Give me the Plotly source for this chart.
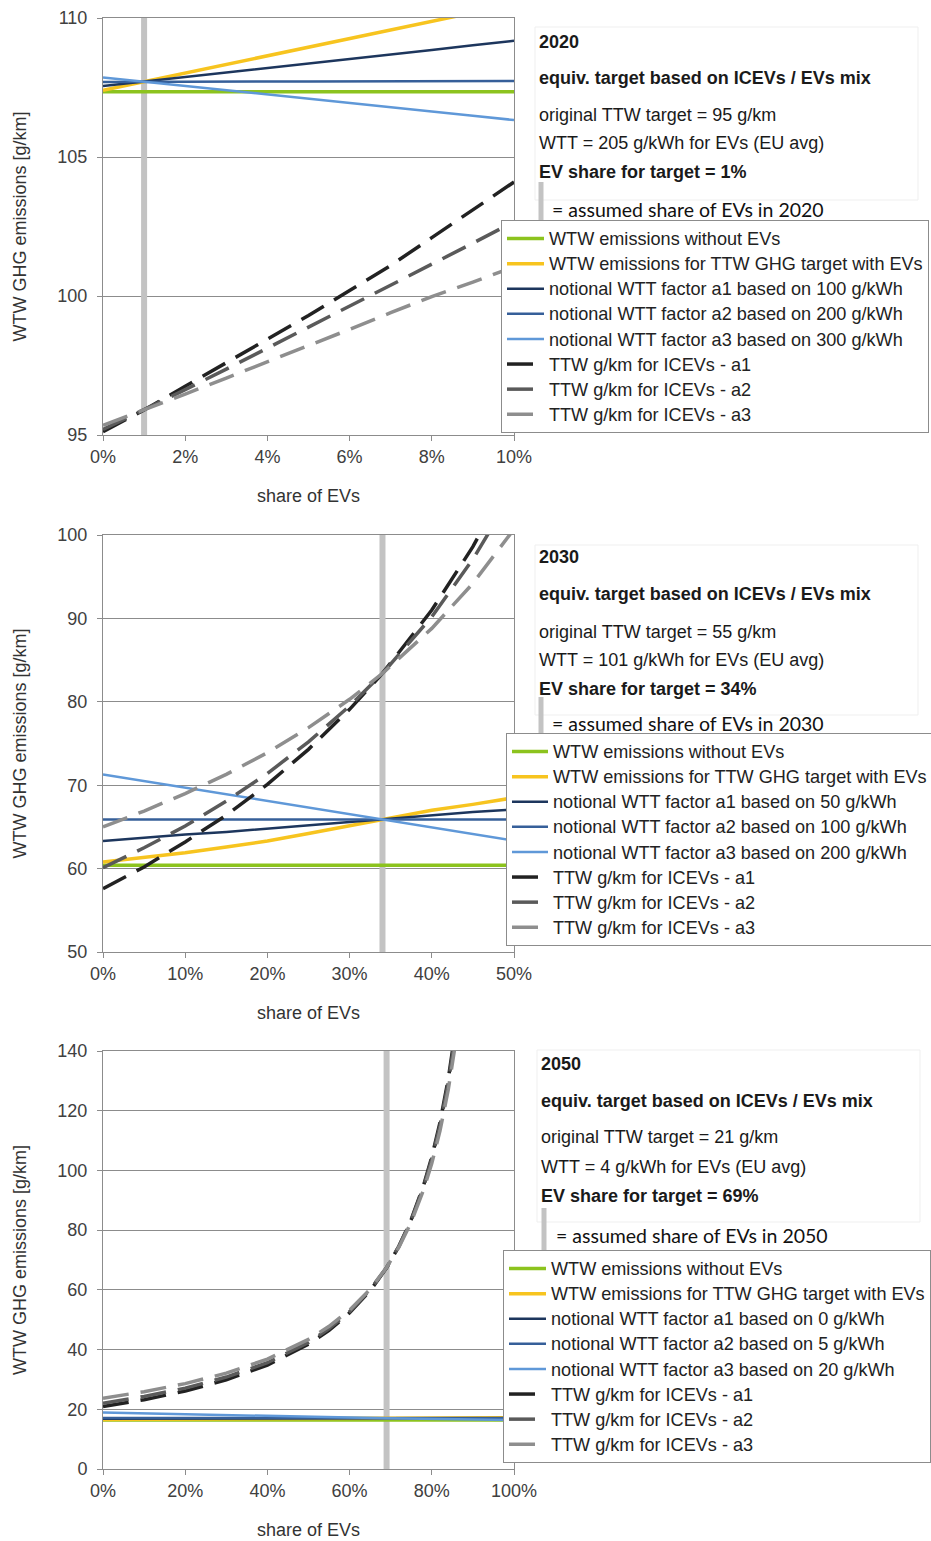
import plotly.graph_objects as go

W, H = 931, 1541

# ---------------- data ----------------
# Panel 2020 (share of EVs in %)
x2020 = [0, 1, 2, 3, 4, 5, 6, 7, 8, 9, 10]
wtw_noev_2020 = [107.35, 107.35, 107.35, 107.35, 107.35, 107.35, 107.35, 107.35, 107.35, 107.35, 107.35]
wtw_target_2020 = [107.40, 107.71, 108.02, 108.33, 108.64, 108.95, 109.26, 109.57, 109.88, 110.19, 110.50]
wtt_a1_2020 = [107.55, 107.71, 107.88, 108.04, 108.20, 108.37, 108.53, 108.69, 108.85, 109.02, 109.18]
wtt_a2_2020 = [107.70, 107.71, 107.71, 107.71, 107.72, 107.72, 107.72, 107.72, 107.73, 107.73, 107.73]
wtt_a3_2020 = [107.86, 107.71, 107.55, 107.40, 107.25, 107.10, 106.94, 106.79, 106.64, 106.48, 106.33]
ttw_a1_2020 = [95.12, 95.90, 96.75, 97.60, 98.45, 99.30, 100.20, 101.10, 102.10, 103.10, 104.10]
ttw_a2_2020 = [95.20, 95.90, 96.63, 97.37, 98.12, 98.87, 99.62, 100.38, 101.14, 101.90, 102.67]
ttw_a3_2020 = [95.35, 95.90, 96.47, 97.05, 97.63, 98.20, 98.80, 99.40, 99.98, 100.50, 101.05]
ev_share_2020 = 1

# Panel 2030
x2030 = [0, 5, 10, 15, 20, 25, 30, 34, 40, 45, 50]
wtw_noev_2030 = [60.4, 60.4, 60.4, 60.4, 60.4, 60.4, 60.4, 60.4, 60.4, 60.4, 60.4]
wtw_target_2030 = [60.8, 61.3, 61.9, 62.6, 63.3, 64.2, 65.1, 65.9, 67.0, 67.7, 68.5]
wtt_a1_2030 = [63.3, 63.7, 64.1, 64.4, 64.8, 65.2, 65.6, 65.9, 66.4, 66.8, 67.1]
wtt_a2_2030 = [65.9, 65.9, 65.9, 65.9, 65.9, 65.9, 65.9, 65.9, 65.9, 65.9, 65.9]
wtt_a3_2030 = [71.3, 70.5, 69.7, 68.9, 68.1, 67.3, 66.5, 65.9, 64.9, 64.1, 63.35]
ttw_a1_2030 = [57.6, 60.2, 63.2, 66.4, 70.1, 74.3, 79.1, 83.4, 91.0, 98.6, 107.7]
ttw_a2_2030 = [60.1, 62.5, 65.1, 68.1, 71.4, 75.2, 79.5, 83.4, 90.2, 97.1, 105.3]
ttw_a3_2030 = [65.0, 66.9, 69.0, 71.3, 73.9, 76.9, 80.3, 83.4, 88.8, 94.2, 100.7]
ev_share_2030 = 34

# Panel 2050
x2050_solid = [0, 69, 100]
wtw_noev_2050 = [16.4, 16.4, 16.4]
wtw_target_2050 = [16.6, 17.0, 17.2]
wtt_a1_2050 = [16.8, 17.0, 17.1]
wtt_a2_2050 = [17.1, 17.0, 17.0]
wtt_a3_2050 = [18.9, 17.0, 16.4]
x2050_dash = [0, 10, 20, 30, 40, 50, 55, 60, 65, 69, 72, 75, 78, 80, 82, 84, 86, 88]
ttw_a1_2050 = [20.9, 23.2, 26.1, 29.9, 34.8, 41.8, 46.4, 52.3, 59.7, 67.4, 74.6, 83.6, 95.0, 104.5, 116.1, 130.6, 149.3, 174.2]
ttw_a2_2050 = [22.0, 24.3, 27.1, 30.8, 35.6, 42.4, 47.0, 52.7, 60.0, 67.5, 74.6, 83.3, 94.5, 103.8, 115.1, 129.3, 147.6, 171.9]
ttw_a3_2050 = [23.7, 25.9, 28.6, 32.1, 36.8, 43.4, 47.8, 53.2, 60.2, 67.5, 74.3, 82.7, 93.5, 102.4, 113.3, 127.0, 144.6, 168.0]
ev_share_2050 = 69

# axis settings / labels
y_ranges = [[95, 110], [50, 100], [0, 140]]
y_dticks = [5, 10, 20]
x_ranges = [[0, 10], [0, 50], [0, 100]]
x_tickvals = [[0, 2, 4, 6, 8, 10], [0, 10, 20, 30, 40, 50], [0, 20, 40, 60, 80, 100]]
x_ticktext = [["0%", "2%", "4%", "6%", "8%", "10%"],
              ["0%", "10%", "20%", "30%", "40%", "50%"],
              ["0%", "20%", "40%", "60%", "80%", "100%"]]
wtt_factors = [[100, 200, 300], [50, 100, 200], [0, 5, 20]]
years = ["2020", "2030", "2050"]
ttw_targets = [95, 55, 21]
wtt_evs = [205, 101, 4]

panels = [
    dict(xs=x2020, xd=x2020, noev=wtw_noev_2020, tgt=wtw_target_2020,
         a=[wtt_a1_2020, wtt_a2_2020, wtt_a3_2020], t=[ttw_a1_2020, ttw_a2_2020, ttw_a3_2020], share=ev_share_2020),
    dict(xs=x2030, xd=x2030, noev=wtw_noev_2030, tgt=wtw_target_2030,
         a=[wtt_a1_2030, wtt_a2_2030, wtt_a3_2030], t=[ttw_a1_2030, ttw_a2_2030, ttw_a3_2030], share=ev_share_2030),
    dict(xs=x2050_solid, xd=x2050_dash, noev=wtw_noev_2050, tgt=wtw_target_2050,
         a=[wtt_a1_2050, wtt_a2_2050, wtt_a3_2050], t=[ttw_a1_2050, ttw_a2_2050, ttw_a3_2050], share=ev_share_2050),
]

# ---------------- styling ----------------
FONT = "Liberation Sans, Arial, sans-serif"
GRID = "#8c8c8c"
C_GREEN = "#8cc31e"
C_YELLOW = "#f7c41f"
C_A = ["#1d365d", "#365f99", "#5f98d8"]
C_T = ["#222222", "#5a5a5a", "#8e8e8e"]
BAR = "#c3c3c3"
DASH = "26px,12px"

# pixel geometry of the three plot areas
plot_x = (103, 514)
plot_y = [(18, 435), (535, 952), (1051, 1469)]
legend_pos = [(501, 220), (506, 733), (503, 1250)]
legend_itemw = [37, 36, 37]
text_x = [537, 537, 539]
assumed_x = [550, 550, 554]
text_y = [(42, 78, 115, 143, 172, 209), (557, 594, 632, 660, 689, 723), (1064, 1101, 1137, 1167, 1196, 1235)]
bar_y = [(182, 222), (697, 738), (1208, 1250)]
bar_x = [541, 541, 544]
box = [(535, 27, 918, 200), (535, 545, 918, 715), (537, 1050, 920, 1222)]

def px(x):
    return x / W

def py(y):
    return 1 - y / H

def leg_label(s):
    return f'<span style="font-size:18.1px">{s}</span>'

fig = go.Figure()
annotations = []
shapes = []
layout = dict(
    width=W, height=H, margin=dict(l=0, r=0, t=0, b=0, autoexpand=False),
    paper_bgcolor="white", plot_bgcolor="white",
    font=dict(family=FONT, size=18, color="#333333"),
    showlegend=True,
)

for i, p in enumerate(panels):
    n = "" if i == 0 else str(i + 1)
    xa, ya = "x" + n, "y" + n
    leg = "legend" + n
    # assumed EV share bar
    fig.add_trace(go.Scatter(x=[p["share"], p["share"]], y=y_ranges[i], mode="lines",
                             line=dict(color=BAR, width=6), xaxis=xa, yaxis=ya,
                             showlegend=False, hoverinfo="skip"))
    fig.add_trace(go.Scatter(x=p["xs"], y=p["noev"], mode="lines", name=leg_label("WTW emissions without EVs"),
                             line=dict(color=C_GREEN, width=3.5), xaxis=xa, yaxis=ya, legend=leg))
    fig.add_trace(go.Scatter(x=p["xs"], y=p["tgt"], mode="lines",
                             name=leg_label("WTW emissions for TTW GHG target with EVs"),
                             line=dict(color=C_YELLOW, width=3.5), xaxis=xa, yaxis=ya, legend=leg))
    for k in range(3):
        fig.add_trace(go.Scatter(x=p["xs"], y=p["a"][k], mode="lines",
                                 name=leg_label(f"notional WTT factor a{k+1} based on {wtt_factors[i][k]} g/kWh"),
                                 line=dict(color=C_A[k], width=2.5), xaxis=xa, yaxis=ya, legend=leg))
    for k in range(3):
        fig.add_trace(go.Scatter(x=p["xd"], y=p["t"][k], mode="lines",
                                 name=leg_label(f"TTW g/km for ICEVs - a{k+1}"),
                                 line=dict(color=C_T[k], width=3.5, dash=DASH), xaxis=xa, yaxis=ya, legend=leg))

    y0, y1 = plot_y[i]
    layout["xaxis" + n] = dict(
        domain=[px(plot_x[0]), px(plot_x[1])], anchor=ya, range=x_ranges[i],
        tickmode="array", tickvals=x_tickvals[i], ticktext=x_ticktext[i],
        showgrid=False, zeroline=False, automargin=False,
        showline=True, mirror=True, linecolor=GRID, linewidth=1,
        ticks="outside", ticklen=5, tickcolor=GRID,
        tickfont=dict(size=18, color="#404040"),
        title=dict(text="share of EVs", font=dict(size=18, color="#333333"), standoff=23),
    )
    layout["yaxis" + n] = dict(
        domain=[py(y1), py(y0)], anchor=xa, range=y_ranges[i], dtick=y_dticks[i],
        showgrid=True, gridcolor=GRID, gridwidth=1, zeroline=False, automargin=False,
        showline=True, mirror=True, linecolor=GRID, linewidth=1,
        ticks="outside", ticklen=5, tickcolor=GRID, ticklabelstandoff=6,
        tickfont=dict(size=18, color="#404040"),
        title=dict(text="WTW GHG emissions [g/km]", font=dict(size=18, color="#333333"), standoff=26),
    )
    lx, ly = legend_pos[i]
    layout[leg] = dict(
        x=px(lx), y=py(ly), xanchor="left", yanchor="top",
        bgcolor="white", bordercolor="#8c8c8c", borderwidth=1,
        font=dict(family=FONT, size=17, color="#222222"),
        tracegroupgap=0, itemwidth=legend_itemw[i],
    )

    # faint text box
    bx0, by0, bx1, by1 = box[i]
    shapes.append(dict(type="rect", xref="paper", yref="paper", x0=px(bx0), x1=px(bx1),
                       y0=py(by1), y1=py(by0), line=dict(color="#efefef", width=1), layer="below"))
    # small bar next to "assumed share" text
    shapes.append(dict(type="line", xref="paper", yref="paper", x0=px(bar_x[i]), x1=px(bar_x[i]),
                       y0=py(bar_y[i][1]), y1=py(bar_y[i][0]), line=dict(color=BAR, width=5)))

    ty = text_y[i]
    texts = [
        (f"<b>{years[i]}</b>", ty[0]),
        ("<b>equiv. target based on ICEVs / EVs mix</b>", ty[1]),
        (f"original TTW target = {ttw_targets[i]} g/km", ty[2]),
        (f"WTT = {wtt_evs[i]} g/kWh for EVs (EU avg)", ty[3]),
        (f"<b>EV share for target = {p['share']}%</b>", ty[4]),
    ]
    for t, yy in texts:
        annotations.append(dict(text=t, xref="paper", yref="paper", x=px(text_x[i]), y=py(yy),
                                xanchor="left", yanchor="middle", showarrow=False,
                                font=dict(family=FONT, size=18, color="#1a1a1a")))
    annotations.append(dict(text=f"= assumed share of EVs in {years[i]}", xref="paper", yref="paper",
                            x=px(assumed_x[i]), y=py(ty[5]), xanchor="left", yanchor="middle",
                            showarrow=False, font=dict(family="Lato, sans-serif", size=19.5, color="#111111")))

layout["annotations"] = annotations
layout["shapes"] = shapes
fig.update_layout(**layout)
fig.write_html("out.html")
